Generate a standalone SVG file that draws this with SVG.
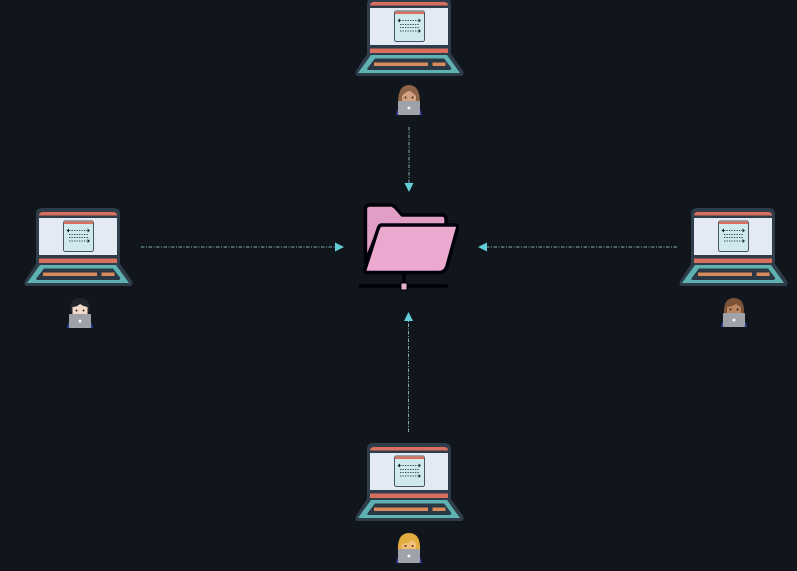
<svg xmlns="http://www.w3.org/2000/svg" width="797" height="571" viewBox="0 0 797 571">
<style>
.conn{stroke:#9fd4d8;stroke-width:1;stroke-dasharray:3.500 1.500 1 1.500;fill:none;opacity:.8}
.fo{stroke:#050608;stroke-width:3.400;stroke-linejoin:round;stroke-linecap:round}
</style>
<defs>
<filter id="soft" x="-5%" y="-5%" width="110%" height="110%"><feGaussianBlur stdDeviation="0.5"/></filter>
<g id="laptop" filter="url(#soft)">
<path d="M42 208H114Q120 208 120 214V264L132 281Q134 286 129 286H28Q23 286 25 281L36 264V214Q36 208 42 208Z" fill="#2f3e4a"/>
<path d="M39 215.500Q39 212 43 212H113Q117 212 117 215.500Z" fill="#d9705f"/>
<rect x="39" y="218" width="78" height="37" fill="#e3eaf3"/>
<rect x="39" y="258.500" width="78" height="4.500" fill="#d9705f"/>
<path d="M40 265H116L129 283H27Z" fill="#5eb2b2"/>
<path d="M44 268.500H113L120 277.500Q121 280 118 280H38Q35 280 37 277.500Z" fill="#2b3944"/>
<rect x="43" y="272.500" width="54" height="3.500" fill="#d98a5c"/>
<rect x="101.500" y="272.500" width="13" height="3.500" fill="#d98a5c"/>
<rect x="63.500" y="221" width="30" height="30.500" rx="1.500" fill="#cfe9ee" stroke="#435561" stroke-width="1"/>
<rect x="64" y="221.500" width="29" height="2.500" fill="#d9705f"/>
<path d="M69 230.500H87M69 234.500H88M69 237.500H88M69 241H87" stroke="#3a4752" stroke-width="1.100" stroke-dasharray="1.300 1.200" fill="none"/>
<path d="M66.500 230.500L69 228.500V232.500ZM90 230.500L87.500 228.500V232.500ZM90 241L87.500 239V243Z" fill="#1d2730"/>
</g>
<g id="person-base" filter="url(#soft)">
<path d="M-13 15Q-12 8 -8 8H8Q12 8 13 15Z" fill="#2f3d9c"/>
<rect x="-11" y="1" width="22" height="14" rx="1" fill="#9fa2a8"/>
<circle cx="0" cy="8" r="1.600" fill="#f4f4f4"/>
</g>
</defs>
<rect width="797" height="571" fill="#10161c"/>
<g id="connectors">
<path class="conn" d="M141 247H336"/>
<path d="M335 242.500L344 247L335 251.500Z" fill="#62cfd8"/>
<path class="conn" d="M677 247H487"/>
<path d="M487 242.500L478 247L487 251.500Z" fill="#62cfd8"/>
<path class="conn" d="M409 127V184"/>
<path d="M404.500 183L409 192L413.500 183Z" fill="#62cfd8"/>
<path class="conn" d="M408.500 432V320"/>
<path d="M404 321L408.500 312L413 321Z" fill="#62cfd8"/>
</g>
<g id="folder-server" filter="url(#soft)">
<path class="fo" d="M404 275V287M360 286H447" fill="none"/>
<path class="fo" d="M365.500 262V209Q365.500 205 370 205H391Q393 205 395 207L402 215H442Q446 215 446 219V226H380L365.500 262Z" fill="#e19fc6"/>
<path class="fo" d="M382 225H455Q458.500 225 457.500 228L447 266Q445 272.500 439 272.500H368Q363.500 272.500 365.500 268L378 229Q379 225 382 225Z" fill="#eba9d0"/>
<rect x="401" y="283" width="6" height="7" fill="#e9b1cf" stroke="#050608" stroke-width="1"/>
</g>
<g id="laptop-top"><use href="#laptop" x="331" y="-210"/></g>
<g id="laptop-left"><use href="#laptop"/></g>
<g id="laptop-right"><use href="#laptop" x="655"/></g>
<g id="laptop-bottom"><use href="#laptop" x="331" y="235"/></g>
<g id="person-top" transform="translate(409 100)">
<path d="M-11 3Q-11 -15 0 -15Q11 -15 11 3Z" fill="#8f6446" filter="url(#soft)"/>
<path d="M-7 3V-4Q-3 -9 1 -9Q4 -7 7 -4V3Z" fill="#d4a184" filter="url(#soft)"/>
<circle cx="-3.500" cy="-2.500" r="1" fill="#3c2a22"/><circle cx="3.500" cy="-2.500" r="1" fill="#3c2a22"/>
<use href="#person-base"/>
</g>
<g id="person-left" transform="translate(80 313)">
<path d="M-10 -3Q-10 -15 0 -15Q10 -15 10 -3L7 2H-7Z" fill="#23252a" filter="url(#soft)"/>
<path d="M-7.500 2V-6Q-3 -6 0 -9Q4 -6 7.500 -6V2Z" fill="#f3d9c9" filter="url(#soft)"/>
<circle cx="-3.500" cy="-2.500" r="1" fill="#2b2320"/><circle cx="3.500" cy="-2.500" r="1" fill="#2b2320"/>
<use href="#person-base"/>
</g>
<g id="person-right" transform="translate(734 312)">
<path d="M-10 2Q-11 -14 0 -14Q11 -14 10 2Z" fill="#7d5238" filter="url(#soft)"/>
<path d="M-7 2V-5Q-2 -5 2 -8Q5 -6 7 -5V2Z" fill="#b98561" filter="url(#soft)"/>
<circle cx="-3.500" cy="-2.500" r="1" fill="#33221a"/><circle cx="3.500" cy="-2.500" r="1" fill="#33221a"/>
<use href="#person-base"/>
</g>
<g id="person-bottom" transform="translate(409 548)">
<path d="M-11 3Q-12 -15 0 -15Q12 -15 11 3Z" fill="#e3ad3f" filter="url(#soft)"/>
<path d="M-7 3V-4Q-1 -4 3 -8Q6 -6 7 -4V3Z" fill="#f3bf78" filter="url(#soft)"/>
<circle cx="-3.500" cy="-2" r="1" fill="#4a3018"/><circle cx="3.500" cy="-2" r="1" fill="#4a3018"/>
<use href="#person-base"/>
</g>
</svg>
